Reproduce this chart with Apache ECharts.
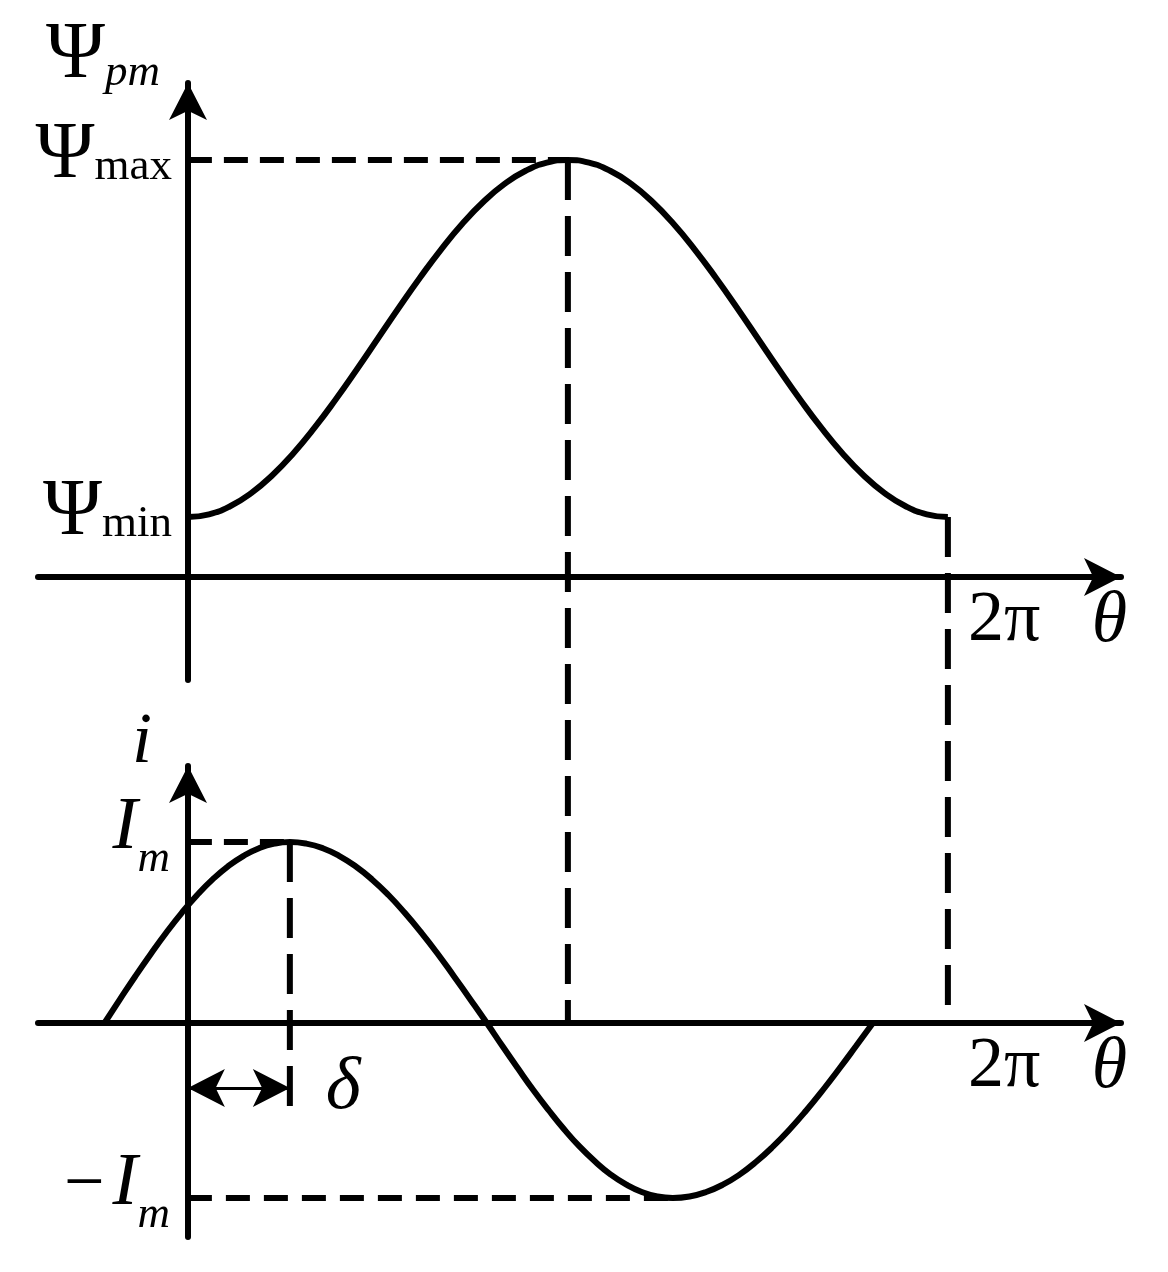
<!DOCTYPE html>
<html><head><meta charset="utf-8">
<script src="https://cdn.jsdelivr.net/npm/echarts@6/dist/echarts.min.js"></script>
<style>html,body{margin:0;padding:0;background:#fff}#c{width:1168px;height:1272px}</style>
</head><body><div id="c"></div>
<script>
// ---- data (θ in degrees, 360 = 2π) ----
const THETA_PSI = [0,10,20,30,40,50,60,70,80,90,100,110,120,130,140,150,160,170,180,190,200,210,220,230,240,250,260,270,280,290,300,310,320,330,340,350,360];
const PSI = [0.600,0.627,0.708,0.839,1.018,1.238,1.493,1.775,2.075,2.385,2.695,2.995,3.277,3.532,3.752,3.931,4.062,4.143,4.170,4.143,4.062,3.931,3.752,3.532,3.277,2.995,2.695,2.385,2.075,1.775,1.493,1.238,1.018,0.839,0.708,0.627,0.600];
const THETA_I = [-39.5,-32.2,-24.9,-17.5,-10.2,-2.9,4.4,11.7,19.0,26.4,33.7,41.0,48.3,
  56.1,63.9,71.6,79.4,87.2,95.0,102.7,110.5,118.3,126.0,133.8,141.6,
  148.9,156.3,163.6,171.0,178.3,185.6,193.0,200.3,207.7,215.0,222.4,229.7,
  237.6,245.5,253.4,261.3,269.2,277.1,285.0,292.9,300.8,308.7,316.6,324.5];
const I_VAL = [0,0.236,0.468,0.693,0.905,1.102,1.280,1.436,1.567,1.672,1.748,1.794,1.81,
  1.794,1.748,1.672,1.567,1.436,1.280,1.102,0.905,0.693,0.468,0.236,0,
  -0.228,-0.453,-0.670,-0.875,-1.065,-1.237,-1.388,-1.516,-1.617,-1.690,-1.735,-1.75,
  -1.735,-1.690,-1.617,-1.516,-1.388,-1.237,-1.065,-0.875,-0.670,-0.453,-0.228,0];
const PSI_MIN = 0.60, PSI_MAX = 4.17;
const I_MAX = 1.81, I_MIN = -1.75;
const PSI_PEAK_THETA = 180, TWO_PI = 360, DELTA = 48.3, I_TROUGH_THETA = 229.7;
const PSI_TICKS = [PSI_MIN, PSI_MAX];
const PSI_TICK_LABELS = ['{P|Ψ}{s|min}', '{P|Ψ}{s|max}'];
const I_TICKS = [I_MAX, I_MIN];
const I_TICK_LABELS = ['{I|I}{m|m}', '{r|−}{I|I}{m|m}'];
const X_TICKS = [TWO_PI];
const X_TICK_LABELS = ['2π'];
const BOTTOM_AXIS_IN_PSI_UNITS = -4.46;  // level of the lower θ axis, expressed on the Ψ scale
const DELTA_GUIDE_END = -0.95;
const DELTA_ARROW_LEVEL = -0.65;

const zip = (xs, ys) => xs.map((x, k) => [x, ys[k]]);
const SERIF = 'Liberation Serif';
const BLACK = '#000';
const ARROW = [28.5, 37];

const xAxisBase = (gi, off) => ({
  type: 'value', gridIndex: gi, min: -71, max: 442, position: 'bottom', offset: off,
  axisLine: { onZero: false, symbol: ['none', 'arrow'], symbolSize: ARROW, lineStyle: { color: BLACK, width: 6 } },
  axisTick: { show: false }, splitLine: { show: false },
  axisLabel: {
    customValues: X_TICKS,
    formatter: (v) => X_TICK_LABELS[X_TICKS.indexOf(v)] || '',
    color: BLACK, fontFamily: SERIF, fontSize: 72, lineHeight: 72,
    align: 'left', padding: [0, 0, 0, 20], margin: 8
  },
  name: 'θ', nameLocation: 'end', nameGap: -11.5, nameMoveOverlap: false,
  nameTextStyle: { color: BLACK, fontFamily: SERIF, fontStyle: 'italic', fontSize: 72, lineHeight: 72,
    align: 'center', verticalAlign: 'top', padding: [9, 0, 0, 0] }
});

const chart = echarts.init(document.getElementById('c'), null, { renderer: 'canvas' });
const option = {
  animation: false,
  backgroundColor: '#fff',
  grid: [
    { left: 38, right: 47, top: 83, height: 597, containLabel: false, outerBoundsMode: 'none' },
    { left: 38, right: 47, top: 766, height: 471, containLabel: false, outerBoundsMode: 'none' }
  ],
  xAxis: [xAxisBase(0, -103), xAxisBase(1, -214)],
  yAxis: [
    {
      type: 'value', gridIndex: 0, min: -1.03, max: 4.94, position: 'left', offset: -150,
      axisLine: { onZero: false, symbol: ['none', 'arrow'], symbolSize: ARROW, lineStyle: { color: BLACK, width: 6 } },
      axisTick: { show: false }, splitLine: { show: false },
      axisLabel: {
        customValues: PSI_TICKS,
        formatter: (v) => PSI_TICK_LABELS[PSI_TICKS.indexOf(v)] || '',
        margin: 16, padding: [0, 0, 8, 0],
        rich: {
          P: { fontFamily: SERIF, fontSize: 80, lineHeight: 80, verticalAlign: 'bottom', color: BLACK },
          s: { fontFamily: SERIF, fontSize: 45, lineHeight: 45, verticalAlign: 'bottom', padding: [0, 0, 6, 0], color: BLACK }
        }
      },
      name: '{P|Ψ}{s|pm}', nameLocation: 'end', nameGap: -13, nameMoveOverlap: false,
      nameTextStyle: {
        align: 'right', verticalAlign: 'bottom', padding: [0, 28, 0, 0],
        rich: {
          P: { fontFamily: SERIF, fontSize: 80, lineHeight: 80, verticalAlign: 'bottom', color: BLACK },
          s: { fontFamily: SERIF, fontStyle: 'italic', fontSize: 45, lineHeight: 45, verticalAlign: 'bottom', padding: [0, 0, 0, 0], color: BLACK }
        }
      }
    },
    {
      type: 'value', gridIndex: 1, min: -2.14, max: 2.57, position: 'left', offset: -150,
      axisLine: { onZero: false, symbol: ['none', 'arrow'], symbolSize: ARROW, lineStyle: { color: BLACK, width: 6 } },
      axisTick: { show: false }, splitLine: { show: false },
      axisLabel: {
        customValues: I_TICKS,
        formatter: (v) => I_TICK_LABELS[I_TICKS.indexOf(v)] || '',
        margin: 18, padding: [50, 0, 0, 0],
        rich: {
          I: { fontFamily: SERIF, fontStyle: 'italic', fontSize: 75, lineHeight: 20, verticalAlign: 'bottom', padding: [0, 0, 16, 0], color: BLACK },
          r: { fontFamily: SERIF, fontSize: 72, lineHeight: 20, verticalAlign: 'bottom', padding: [0, 8, 16, 0], color: BLACK },
          m: { fontFamily: SERIF, fontStyle: 'italic', fontSize: 45, lineHeight: 30, verticalAlign: 'bottom', color: BLACK }
        }
      },
      name: 'i', nameLocation: 'end', nameGap: -13.5, nameMoveOverlap: false,
      nameTextStyle: { color: BLACK, fontFamily: SERIF, fontStyle: 'italic', fontSize: 72, lineHeight: 72,
        align: 'right', verticalAlign: 'bottom', padding: [0, 36, 0, 0] }
    }
  ],
  series: [
    { type: 'line', name: 'Ψpm', xAxisIndex: 0, yAxisIndex: 0, data: zip(THETA_PSI, PSI), smooth: true,
      symbol: 'none', silent: true, lineStyle: { color: BLACK, width: 6 } },
    { type: 'line', xAxisIndex: 0, yAxisIndex: 0, data: [[0, PSI_MAX], [PSI_PEAK_THETA, PSI_MAX]],
      symbol: 'none', silent: true, lineStyle: { color: BLACK, width: 6, type: [24, 12] } },
    { type: 'line', xAxisIndex: 0, yAxisIndex: 0, clip: false, data: [[PSI_PEAK_THETA, PSI_MAX], [PSI_PEAK_THETA, BOTTOM_AXIS_IN_PSI_UNITS]],
      symbol: 'none', silent: true, lineStyle: { color: BLACK, width: 6, type: [40, 16] } },
    { type: 'line', xAxisIndex: 0, yAxisIndex: 0, clip: false, data: [[TWO_PI, PSI_MIN], [TWO_PI, BOTTOM_AXIS_IN_PSI_UNITS]],
      symbol: 'none', silent: true, lineStyle: { color: BLACK, width: 6, type: [40, 16] } },
    { type: 'line', name: 'i', xAxisIndex: 1, yAxisIndex: 1, data: zip(THETA_I, I_VAL), smooth: true,
      symbol: 'none', silent: true, lineStyle: { color: BLACK, width: 6 },
      markLine: {
        silent: true, animation: false,
        symbol: ['arrow', 'arrow'], symbolSize: ARROW,
        lineStyle: { color: BLACK, width: 3, type: 'solid' },
        label: { show: true, position: 'end', distance: 36, formatter: 'δ',
          color: BLACK, fontFamily: SERIF, fontStyle: 'italic', fontSize: 75 },
        emphasis: { disabled: true },
        data: [[{ coord: [0, DELTA_ARROW_LEVEL] }, { coord: [DELTA, DELTA_ARROW_LEVEL] }]]
      } },
    { type: 'line', xAxisIndex: 1, yAxisIndex: 1, data: [[0, I_MAX], [DELTA, I_MAX]],
      symbol: 'none', silent: true, lineStyle: { color: BLACK, width: 6, type: [24, 12] } },
    { type: 'line', xAxisIndex: 1, yAxisIndex: 1, data: [[DELTA, I_MAX], [DELTA, DELTA_GUIDE_END]],
      symbol: 'none', silent: true, lineStyle: { color: BLACK, width: 6, type: [40, 16] } },
    { type: 'line', xAxisIndex: 1, yAxisIndex: 1, data: [[0, I_MIN], [I_TROUGH_THETA, I_MIN]],
      symbol: 'none', silent: true, lineStyle: { color: BLACK, width: 6, type: [24, 14] } }
  ]
};
chart.setOption(option);
</script>
</body></html>
